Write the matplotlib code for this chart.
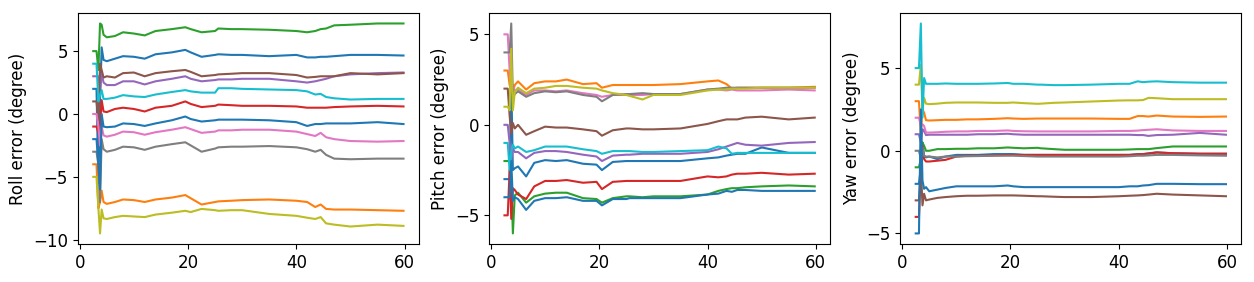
import matplotlib
matplotlib.use("Agg")
import matplotlib.pyplot as plt

plt.rcParams["font.size"] = 12

# time stamps (s) shared by every run
t = [2.5, 3.1, 3.45, 3.75, 4.05, 4.4, 5, 6.5, 8, 10, 12, 14, 17, 19.5, 20.5,
     22.5, 25, 25.6, 28, 30, 35, 40, 42, 43.5, 44.5, 45.5, 47, 50, 55, 59.8]

# ---- roll error, one list per run (tab10 colour order, blue used twice)
roll_blue1 = [2, 2, -5.5, 1.0, 5.3, 4.3, 4.2, 4.4, 4.6, 4.55, 4.4, 4.75, 4.9, 5.1, 4.9,
              4.55, 4.7, 4.75, 4.7, 4.7, 4.6, 4.7, 4.5, 4.5, 4.55, 4.55, 4.6, 4.7, 4.7, 4.65]
roll_orange = [-4, -4, -7.5, -7.0, -6.1, -7.0, -7.15, -7.0, -6.8, -6.85, -7.0, -6.8, -6.65, -6.45, -6.7,
               -7.2, -7.0, -6.95, -6.9, -6.85, -6.8, -6.9, -7.0, -7.4, -7.2, -7.55, -7.6, -7.6, -7.65, -7.7]
roll_green = [5, 5, 3.5, 7.2, 7.1, 6.3, 6.1, 6.2, 6.5, 6.4, 6.25, 6.6, 6.75, 6.9, 6.75,
              6.5, 6.6, 6.8, 6.75, 6.75, 6.7, 6.6, 6.5, 6.6, 6.75, 6.8, 7.05, 7.1, 7.2, 7.2]
roll_red = [-1, -1, -1.5, -1.0, 1.1, 0.2, 0.15, 0.4, 0.5, 0.4, 0.2, 0.5, 0.65, 1.0, 0.8,
            0.55, 0.65, 0.75, 0.7, 0.65, 0.65, 0.6, 0.5, 0.5, 0.5, 0.5, 0.55, 0.6, 0.65, 0.6]
roll_purple = [3, 3, 3.0, 2.0, 3.2, 2.5, 2.3, 2.3, 2.6, 2.6, 2.35, 2.6, 2.8, 3.0, 2.8,
               2.6, 2.7, 2.75, 2.75, 2.8, 2.8, 2.6, 2.5, 2.6, 2.7, 2.8, 3.0, 3.15, 3.25, 3.3]
roll_brown = [1, 1, -0.5, 4.0, 3.5, 2.9, 3.0, 2.9, 3.25, 3.3, 3.0, 3.25, 3.4, 3.5, 3.35,
              3.0, 3.1, 3.15, 3.2, 3.25, 3.25, 3.1, 2.9, 2.95, 3.0, 3.0, 3.0, 3.25, 3.15, 3.25]
roll_pink = [0, 0, -1.0, -2.5, -1.0, -1.7, -1.8, -1.65, -1.4, -1.45, -1.65, -1.45, -1.25, -1.05, -1.2,
             -1.5, -1.4, -1.3, -1.3, -1.25, -1.25, -1.4, -1.6, -1.75, -1.5, -1.85, -2.0, -2.15, -2.2, -2.15]
roll_gray = [-3, -3, -4.0, -7.0, -2.0, -2.8, -3.0, -2.85, -2.6, -2.65, -2.85, -2.6, -2.4, -2.25, -2.5,
             -3.0, -2.75, -2.65, -2.6, -2.6, -2.55, -2.65, -2.8, -3.0, -2.85, -3.25, -3.55, -3.6, -3.55, -3.55]
roll_olive = [-5, -5, -7.5, -9.5, -7.6, -8.3, -8.35, -8.2, -8.1, -8.15, -8.2, -8.0, -7.85, -7.7, -7.8,
              -7.55, -7.65, -7.7, -7.65, -7.65, -7.95, -8.1, -8.25, -8.35, -8.2, -8.7, -8.8, -8.95, -8.8, -8.9]
roll_cyan = [4, 4, 1.0, 1.5, 1.9, 1.2, 1.2, 1.3, 1.5, 1.4, 1.35, 1.55, 1.75, 1.9, 1.8,
             1.7, 1.7, 2.05, 2.05, 2.0, 1.95, 1.9, 1.8, 1.55, 1.6, 1.35, 1.25, 1.15, 1.2, 1.2]
roll_blue2 = [-2, -2, -4.0, -6.0, 0.0, -1.0, -1.05, -1.0, -0.75, -0.8, -0.95, -0.75, -0.5, -0.2, -0.4,
              -0.6, -0.5, -0.45, -0.45, -0.45, -0.5, -0.65, -0.95, -0.8, -0.8, -0.75, -0.75, -0.75, -0.65, -0.8]

# ---- pitch error
pitch_blue1 = [-3, -3, -3.0, 2.5, -2.5, -2.4, -2.3, -2.85, -2.1, -1.95, -2.0, -1.95, -2.15, -2.2, -2.5,
               -2.05, -2.0, -2.0, -2.0, -2.0, -2.0, -1.85, -1.8, -1.7, -1.65, -1.6, -1.6, -1.25, -1.55, -1.55]
pitch_orange = [3, 3, 2.2, 1.9, 1.8, 2.2, 2.4, 1.95, 2.3, 2.4, 2.4, 2.5, 2.25, 2.3, 2.05,
                2.2, 2.2, 2.2, 2.2, 2.2, 2.25, 2.4, 2.45, 2.25, 2.0, 2.05, 2.05, 2.05, 2.05, 2.1]
pitch_green = [-2, -2, -2.0, -3.0, -6.0, -3.9, -3.75, -4.3, -3.95, -3.8, -3.75, -3.75, -4.05, -4.1, -4.3,
               -4.05, -3.95, -3.95, -4.0, -3.95, -3.95, -3.85, -3.65, -3.55, -3.5, -3.5, -3.45, -3.4, -3.35, -3.4]
pitch_red = [-5, -5, -2.5, -5.2, -3.5, -3.6, -3.85, -4.1, -3.4, -3.1, -3.1, -3.05, -3.2, -3.15, -3.55,
             -3.15, -3.1, -3.1, -3.1, -3.1, -3.1, -2.85, -2.9, -2.85, -2.75, -2.7, -2.7, -2.65, -2.75, -2.7]
pitch_purple = [0, 0, -1.0, -2.0, -1.3, -1.5, -1.5, -1.85, -1.55, -1.45, -1.45, -1.5, -1.65, -1.75, -2.0,
                -1.7, -1.65, -1.65, -1.6, -1.6, -1.6, -1.5, -1.35, -1.2, -1.1, -1.0, -1.1, -1.15, -1.0, -0.95]
pitch_brown = [2, 2, 0.5, -0.5, 0.1, -0.2, 0.0, -0.55, -0.35, -0.1, -0.15, -0.15, -0.25, -0.35, -0.6,
               -0.3, -0.2, -0.2, -0.25, -0.25, -0.2, 0.05, 0.2, 0.3, 0.3, 0.3, 0.4, 0.45, 0.3, 0.4]
pitch_pink = [5, 5, 3.0, 2.0, 2.2, 1.9, 1.95, 1.65, 1.9, 1.9, 1.85, 1.9, 1.75, 1.65, 1.55,
              1.65, 1.65, 1.65, 1.65, 1.7, 1.7, 1.95, 1.95, 1.9, 1.95, 1.9, 1.9, 1.9, 1.95, 1.9]
pitch_gray = [4, 4, 4.0, 5.6, 1.5, 1.7, 1.85, 1.55, 1.75, 1.85, 1.8, 1.85, 1.65, 1.55, 1.3,
              1.65, 1.7, 1.7, 1.75, 1.7, 1.7, 1.95, 2.0, 2.05, 2.05, 2.05, 2.05, 2.05, 2.05, 2.05]
pitch_olive = [1, 1, 0.8, 4.2, 0.8, 1.8, 2.05, 1.75, 2.0, 2.05, 2.15, 2.15, 2.05, 2.0, 1.9,
               1.75, 1.65, 1.6, 1.4, 1.65, 1.65, 1.9, 1.95, 1.95, 2.0, 2.0, 2.0, 2.05, 2.05, 2.05]
pitch_cyan = [-1, -1, -2.5, -1.5, -1.1, -1.3, -1.2, -1.5, -1.4, -1.2, -1.2, -1.2, -1.35, -1.45, -1.6,
              -1.45, -1.45, -1.45, -1.5, -1.5, -1.45, -1.4, -1.2, -1.3, -1.6, -1.55, -1.55, -1.55, -1.55, -1.55]
pitch_blue2 = [-4, -4, -4.0, -2.0, -4.2, -4.0, -4.1, -4.7, -4.2, -4.05, -4.05, -4.0, -4.2, -4.2, -4.45,
               -4.1, -4.1, -4.05, -4.05, -4.05, -4.05, -3.85, -3.8, -3.65, -3.7, -3.6, -3.6, -3.65, -3.65, -3.65]

# ---- yaw error
yaw_blue1 = [-2, -2, -1.0, 0.5, -0.3, -0.4, -0.35, -0.5, -0.35, -0.25, -0.25, -0.25, -0.2, -0.2, -0.2,
             -0.25, -0.25, -0.25, -0.25, -0.25, -0.25, -0.25, -0.25, -0.2, -0.2, -0.15, -0.1, -0.15, -0.18, -0.18]
yaw_orange = [3, 3, 1.0, 2.5, 2.3, 1.85, 1.83, 1.85, 1.87, 1.87, 1.9, 1.9, 1.93, 1.97, 1.95,
              1.93, 1.95, 1.95, 1.95, 1.95, 1.95, 1.93, 1.93, 2.1, 2.1, 2.07, 2.13, 2.07, 2.05, 2.07]
yaw_green = [-1, -1, -0.5, 0.5, 0.3, 0.0, 0.0, 0.1, 0.1, 0.12, 0.12, 0.15, 0.15, 0.2, 0.18,
             0.15, 0.18, 0.15, 0.1, 0.06, 0.06, 0.06, 0.08, 0.1, 0.1, 0.1, 0.16, 0.26, 0.26, 0.26]
yaw_red = [-4, -4, -1.0, 0.3, -0.5, -0.65, -0.65, -0.6, -0.55, -0.35, -0.3, -0.3, -0.28, -0.25, -0.25,
           -0.25, -0.25, -0.25, -0.25, -0.25, -0.25, -0.25, -0.25, -0.22, -0.2, -0.18, -0.1, -0.15, -0.18, -0.18]
yaw_purple = [1, 1, 0.5, 1.3, 1.2, 0.95, 0.97, 0.97, 0.97, 0.97, 0.97, 1.0, 1.0, 1.03, 1.0,
              0.97, 0.97, 0.97, 0.97, 0.97, 0.97, 0.97, 0.97, 0.95, 0.95, 0.9, 0.95, 0.97, 1.08, 0.97]
yaw_brown = [-3, -3, -1.0, -3.3, -2.6, -3.0, -2.95, -2.85, -2.8, -2.75, -2.72, -2.72, -2.7, -2.7, -2.7,
             -2.72, -2.75, -2.75, -2.78, -2.8, -2.8, -2.75, -2.72, -2.7, -2.68, -2.65, -2.6, -2.65, -2.7, -2.75]
yaw_pink = [2, 2, 1.5, 1.6, 1.5, 1.1, 1.1, 1.12, 1.15, 1.17, 1.17, 1.2, 1.2, 1.23, 1.2,
            1.18, 1.17, 1.17, 1.17, 1.17, 1.17, 1.2, 1.2, 1.22, 1.25, 1.27, 1.3, 1.23, 1.2, 1.2]
yaw_gray = [0, 0, -0.5, 0.2, -0.3, -0.35, -0.35, -0.4, -0.35, -0.35, -0.33, -0.32, -0.3, -0.3, -0.3,
            -0.32, -0.35, -0.35, -0.35, -0.35, -0.35, -0.35, -0.33, -0.3, -0.3, -0.28, -0.25, -0.25, -0.28, -0.3]
yaw_olive = [4, 4, 5.2, 2.5, 3.2, 2.85, 2.82, 2.85, 2.9, 2.92, 2.92, 2.92, 2.9, 2.9, 2.92,
             2.88, 2.84, 2.85, 2.9, 2.92, 2.98, 3.04, 3.05, 3.05, 3.07, 3.2, 3.18, 3.12, 3.12, 3.12]
yaw_cyan = [5, 5, 7.7, 2.0, 4.4, 4.05, 4.05, 4.05, 4.07, 4.05, 4.05, 4.05, 4.07, 4.1, 4.05,
            4.05, 4.0, 4.0, 3.97, 3.97, 4.0, 4.05, 4.05, 4.2, 4.15, 4.18, 4.2, 4.15, 4.12, 4.12]
yaw_blue2 = [-5, -5, 2.5, -1.8, -2.3, -2.2, -2.45, -2.35, -2.25, -2.15, -2.15, -2.15, -2.15, -2.1, -2.15,
             -2.2, -2.2, -2.2, -2.2, -2.2, -2.2, -2.2, -2.15, -2.15, -2.1, -2.08, -2.0, -2.0, -2.02, -2.02]

roll_runs = [roll_blue1, roll_orange, roll_green, roll_red, roll_purple, roll_brown,
             roll_pink, roll_gray, roll_olive, roll_cyan, roll_blue2]
pitch_runs = [pitch_blue1, pitch_orange, pitch_green, pitch_red, pitch_purple, pitch_brown,
              pitch_pink, pitch_gray, pitch_olive, pitch_cyan, pitch_blue2]
yaw_runs = [yaw_blue1, yaw_orange, yaw_green, yaw_red, yaw_purple, yaw_brown,
            yaw_pink, yaw_gray, yaw_olive, yaw_cyan, yaw_blue2]

x_ticks = [0, 20, 40, 60]
roll_ticks = [-10, -5, 0, 5]
pitch_ticks = [-5, 0, 5]
yaw_ticks = [-5, 0, 5]

fig, axes = plt.subplots(1, 3, figsize=(12.54, 2.82), dpi=100)
fig.subplots_adjust(left=0.062, right=0.990, top=0.954, bottom=0.135, wspace=0.205)

panels = [(roll_runs, "Roll error (degree)", roll_ticks),
          (pitch_runs, "Pitch error (degree)", pitch_ticks),
          (yaw_runs, "Yaw error (degree)", yaw_ticks)]
for ax, (runs, label, yt) in zip(axes, panels):
    for run in runs:
        ax.plot(t, run)
    ax.set_ylabel(label)
    ax.set_xticks(x_ticks)
    ax.set_yticks(yt)

fig.savefig("out.png", dpi=100)
